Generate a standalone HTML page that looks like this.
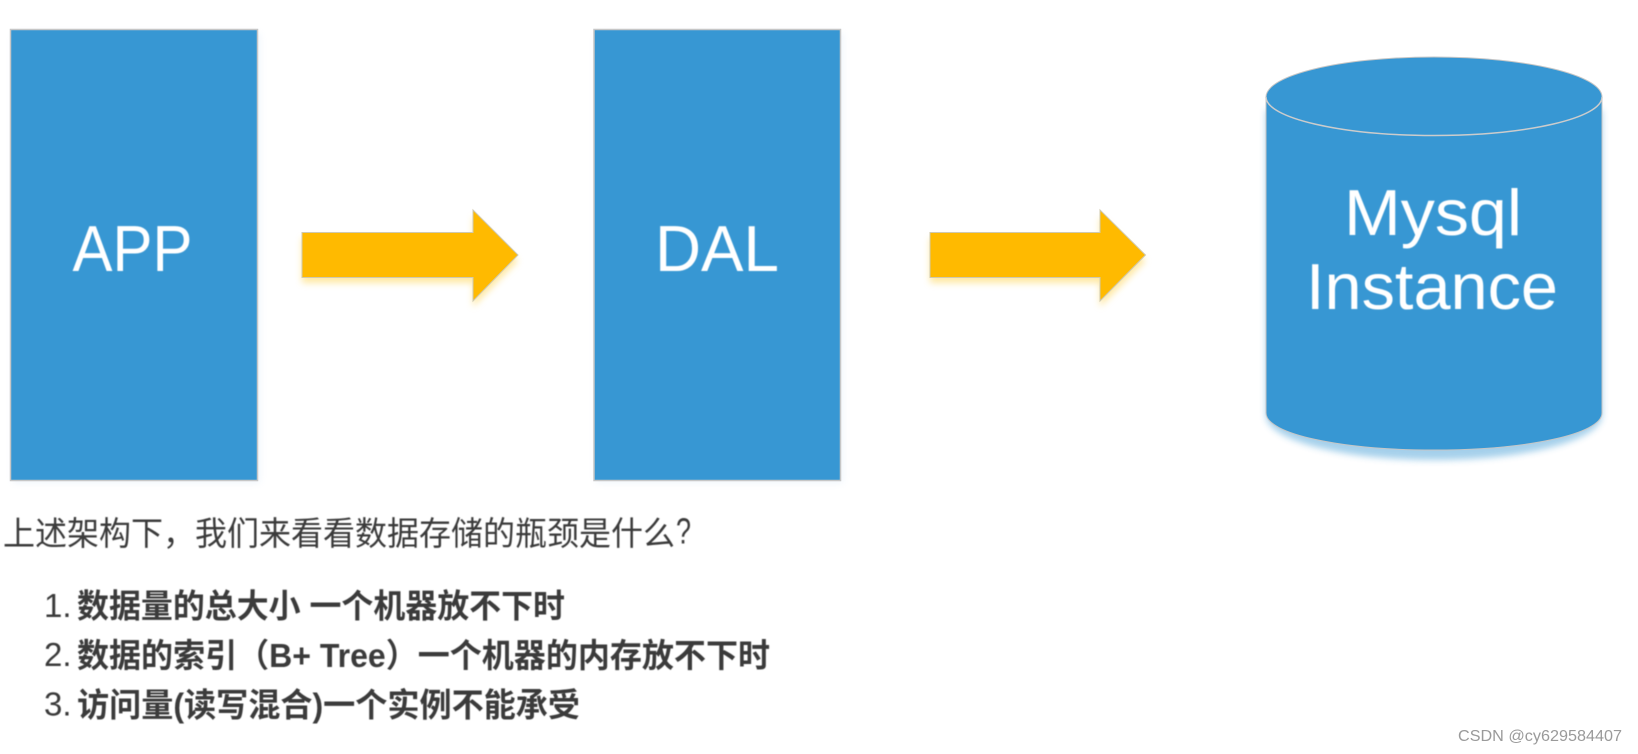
<!DOCTYPE html>
<html><head><meta charset="utf-8">
<style>
html,body{margin:0;padding:0;background:#fff;width:1638px;height:754px;overflow:hidden}
svg{display:block;position:absolute;left:0;top:0}
.cjk{font-family:"Liberation Sans","Noto Sans CJK SC",sans-serif}
.n{font-family:"Liberation Sans",sans-serif;fill:#fff;font-size:65px}
</style></head><body>
<svg width="1638" height="754" viewBox="0 0 1638 754" xmlns="http://www.w3.org/2000/svg">
<defs>
<filter id="s" x="-10%" y="-10%" width="120%" height="130%"><feGaussianBlur stdDeviation="3.5"/></filter>
<filter id="t"><feGaussianBlur stdDeviation=".5"/></filter>
</defs>
<!-- shadows -->
<rect x="13" y="33" width="247" height="450" fill="#dfeaf8" opacity=".45" filter="url(#s)"/>
<rect x="596" y="33" width="247" height="450" fill="#dfeaf8" opacity=".45" filter="url(#s)"/>
<path d="M302 238H473V216L518 261L473 307V283H302Z" fill="#ffd75a" opacity=".55" filter="url(#s)"/>
<path d="M930 238H1100V216L1145.500 261L1100 307V283H930Z" fill="#ffd75a" opacity=".55" filter="url(#s)"/>
<path d="M1266 110V415C1266 440 1342 460 1434 460S1602 440 1602 415V110Z" fill="#3797d3" opacity=".45" filter="url(#s)"/>
<!-- boxes -->
<rect x="10.500" y="29.500" width="247" height="451" fill="#3797d3" stroke="#c6c6c6" stroke-width="1.500"/>
<rect x="594" y="29.500" width="246.500" height="451" fill="#3797d3" stroke="#c6c6c6" stroke-width="1.500"/>
<!-- arrows -->
<path d="M302 232.500H473V210L518 255L473 301V277.500H302Z" fill="#ffba00" stroke="#cfc9b0" stroke-width="1"/>
<path d="M930 232.500H1100V210L1145.500 255L1100 301V277.500H930Z" fill="#ffba00" stroke="#cfc9b0" stroke-width="1"/>
<!-- cylinder -->
<path d="M1266 97C1266 75 1341 57 1434 57S1602 75 1602 97V413C1602 434 1527 450 1434 450S1266 434 1266 413Z" fill="#3797d3" stroke="#c6c6c6" stroke-width="1"/>
<path d="M1266 97C1266 118 1341 135.500 1434 135.500S1602 118 1602 97" fill="none" stroke="#cccccc" stroke-width="1.500"/>
<!-- labels -->
<g filter="url(#t)">
<text class="n" x="72.500" y="271" textLength="120" lengthAdjust="spacingAndGlyphs">APP</text>
<text class="n" x="655" y="271" textLength="124" lengthAdjust="spacingAndGlyphs">DAL</text>
<text class="n" x="1344" y="235" textLength="178" lengthAdjust="spacingAndGlyphs">Mysql</text>
<text class="n" x="1306" y="309" textLength="252" lengthAdjust="spacingAndGlyphs">Instance</text>
<g class="cjk" fill="#3a3a3a" font-size="33">
<text x="3" y="545" textLength="672" lengthAdjust="spacingAndGlyphs">上述架构下，我们来看看数据存储的瓶颈是什么</text>
<text x="676" y="543.500" font-size="36" textLength="15" lengthAdjust="spacingAndGlyphs">?</text>
<text x="44" y="617">1.</text>
<text x="44" y="666">2.</text>
<text x="44" y="715.500">3.</text>
<g font-weight="700">
<text x="77" y="617.500" textLength="488" lengthAdjust="spacingAndGlyphs">数据量的总大小 一个机器放不下时</text>
<text x="77" y="667" textLength="693" lengthAdjust="spacingAndGlyphs">数据的索引（B+ Tree）一个机器的内存放不下时</text>
<text x="77" y="716.500" textLength="503" lengthAdjust="spacingAndGlyphs">访问量(读写混合)一个实例不能承受</text>
</g></g>
</g>
<text x="1458" y="741" font-family="Liberation Sans,sans-serif" font-size="16" fill="#9a9a9a" textLength="164" lengthAdjust="spacingAndGlyphs">CSDN @cy629584407</text>
</svg>
</body></html>
